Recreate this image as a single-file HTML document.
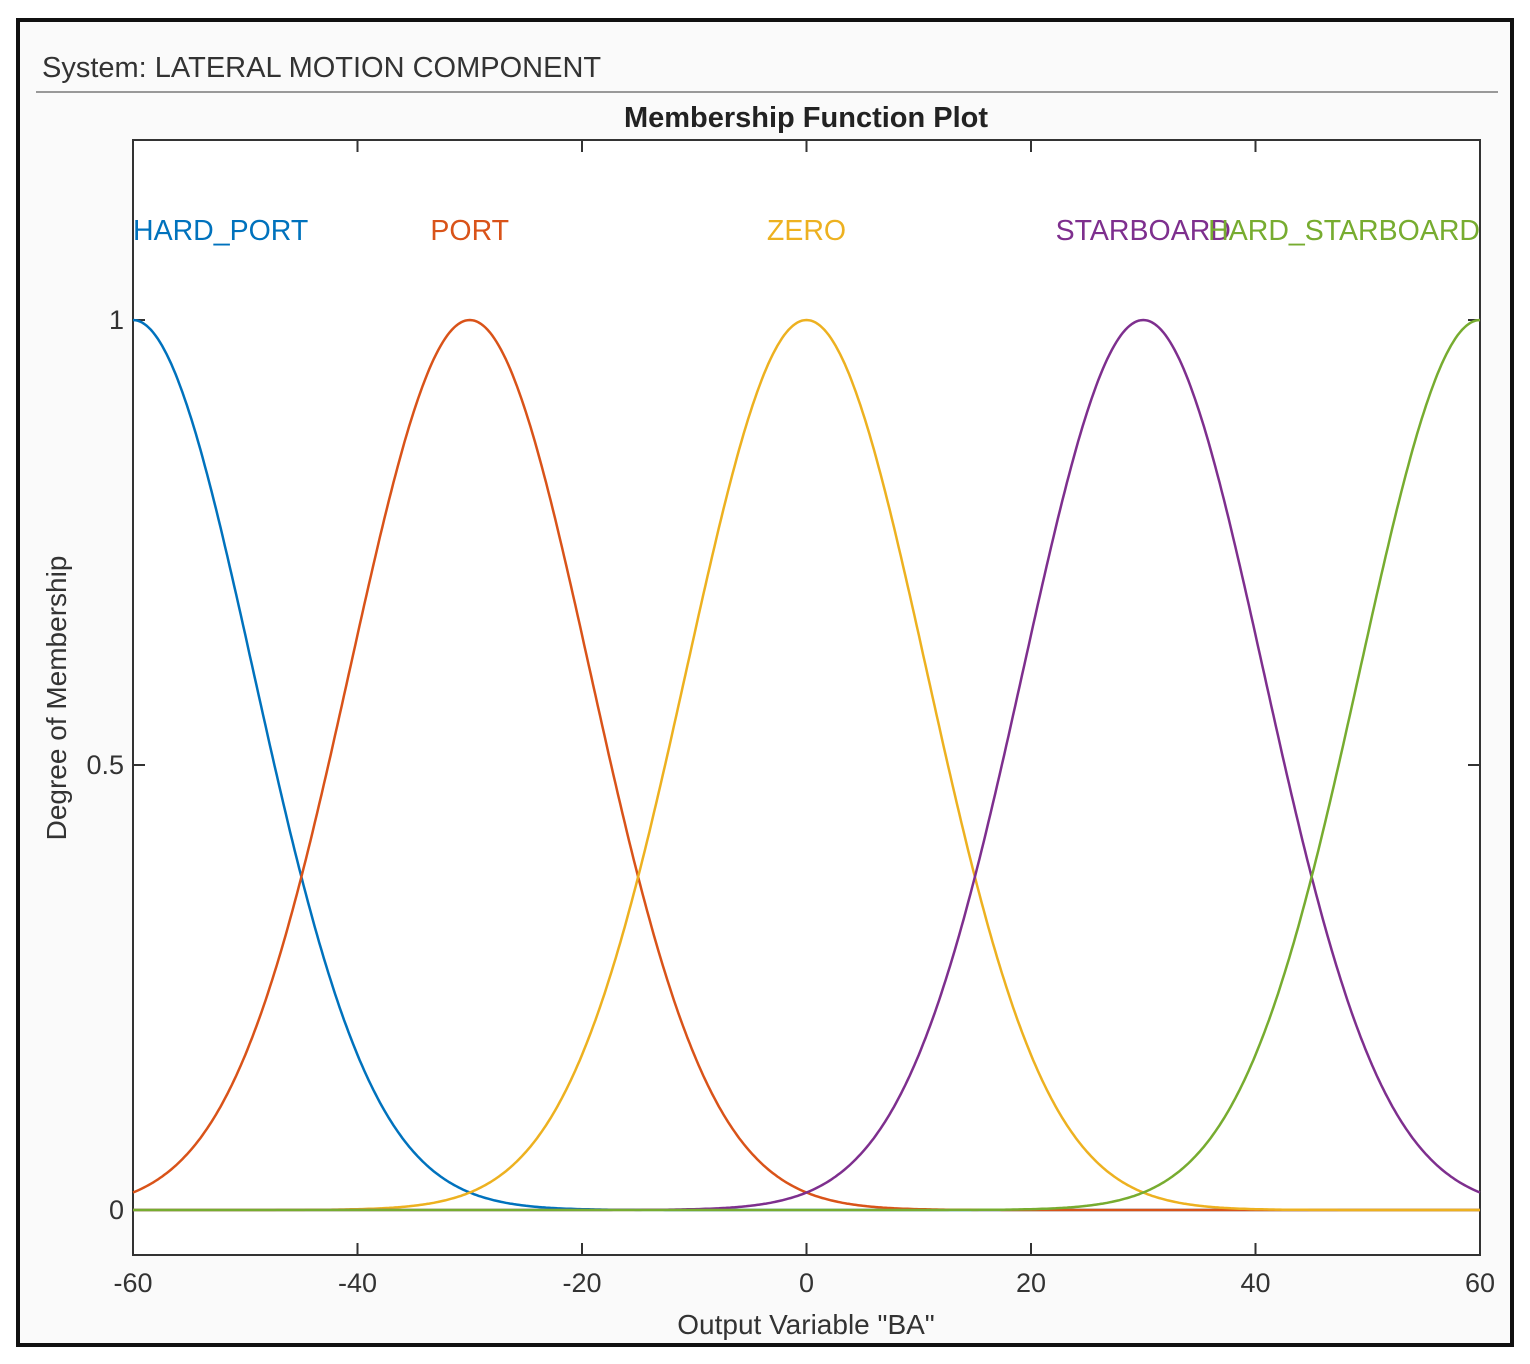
<!DOCTYPE html>
<html><head><meta charset="utf-8"><style>
body{margin:0;background:#fff;}
svg{display:block;font-family:"Liberation Sans",sans-serif;}
</style></head><body>
<svg id="chart" width="1530" height="1364">
<rect x="18" y="20" width="1494" height="1325" fill="#fafafa" stroke="#111" stroke-width="4"/>
<text x="42" y="77" font-size="29" fill="#333">System: LATERAL MOTION COMPONENT</text>
<line x1="36" y1="92" x2="1498" y2="92" stroke="#999" stroke-width="2"/>
<text x="806" y="127" font-size="29" font-weight="bold" text-anchor="middle" fill="#222">Membership Function Plot</text>
<rect x="133" y="140" width="1347" height="1115" fill="#fff" stroke="#333" stroke-width="2"/>
<g id="marks"></g>
<text x="806" y="1334" font-size="28" text-anchor="middle" fill="#333">Output Variable "BA"</text>
<text transform="translate(66,698) rotate(-90)" font-size="28" text-anchor="middle" fill="#333">Degree of Membership</text>
</svg>
<script>
const mfNames=["HARD_PORT","PORT","ZERO","STARBOARD","HARD_STARBOARD"];
const mfCenters=[-60,-30,0,30,60];
const mfSigmas=[10.7,10.7,10.7,10.7,10.7];
const mfColors=["#0072BD","#D95319","#EDB120","#7E2F8E","#77AC30"];
const xTicks=[-60,-40,-20,0,20,40,60];
const yTicks=[0,0.5,1];
const X0=133,X1=1480,XMIN=-60,XMAX=60;
const yZero=1210,yOne=320;
const sx=v=>X0+(v-XMIN)/(XMAX-XMIN)*(X1-X0);
const sy=v=>yZero+(yOne-yZero)*v;
const NS="http://www.w3.org/2000/svg";
const g=document.getElementById('marks');
function mk(t,a){const e=document.createElementNS(NS,t);for(const k in a)e.setAttribute(k,a[k]);return e;}
xTicks.forEach(v=>{
  const t=mk('line',{x1:sx(v),x2:sx(v),y1:1255,y2:1243,stroke:'#333','stroke-width':2});
  
  
  g.appendChild(t);
  const t2=mk('line',{x1:sx(v),x2:sx(v),y1:140,y2:152,stroke:'#333','stroke-width':2});
  
  
  g.appendChild(t2);
  const l=mk('text',{x:sx(v),y:1292,'font-size':27,'text-anchor':'middle',fill:'#333'});
  l.textContent=v;
  
  
  g.appendChild(l);
});
yTicks.forEach(v=>{
  const t=mk('line',{x1:133,x2:145,y1:sy(v),y2:sy(v),stroke:'#333','stroke-width':2});
  
  
  g.appendChild(t);
  const t2=mk('line',{x1:1468,x2:1480,y1:sy(v),y2:sy(v),stroke:'#333','stroke-width':2});
  
  
  g.appendChild(t2);
  const l=mk('text',{x:124,y:sy(v)+9,'font-size':27,'text-anchor':'end',fill:'#333'});
  l.textContent=v;
  
  
  g.appendChild(l);
});
mfNames.forEach((n,i)=>{
  let d='';
  for(let k=0;k<=600;k++){
    const x=XMIN+(XMAX-XMIN)*k/600;
    const y=Math.exp(-Math.pow(x-mfCenters[i],2)/(2*mfSigmas[i]*mfSigmas[i]));
    d+=(k?'L':'M')+sx(x).toFixed(1)+','+sy(y).toFixed(1);
  }
  const p=mk('path',{d:d,fill:'none',stroke:mfColors[i],'stroke-width':2.5});
  
  
  g.appendChild(p);
  let lx=sx(mfCenters[i]),anchor='middle';
  if(i===0){lx=133;anchor='start';}
  if(i===mfNames.length-1){lx=1480;anchor='end';}
  const l=mk('text',{x:lx,y:240,'font-size':28.5,'text-anchor':anchor,fill:mfColors[i]});
  l.textContent=n;
  
  
  g.appendChild(l);
});
</script>
</body></html>
